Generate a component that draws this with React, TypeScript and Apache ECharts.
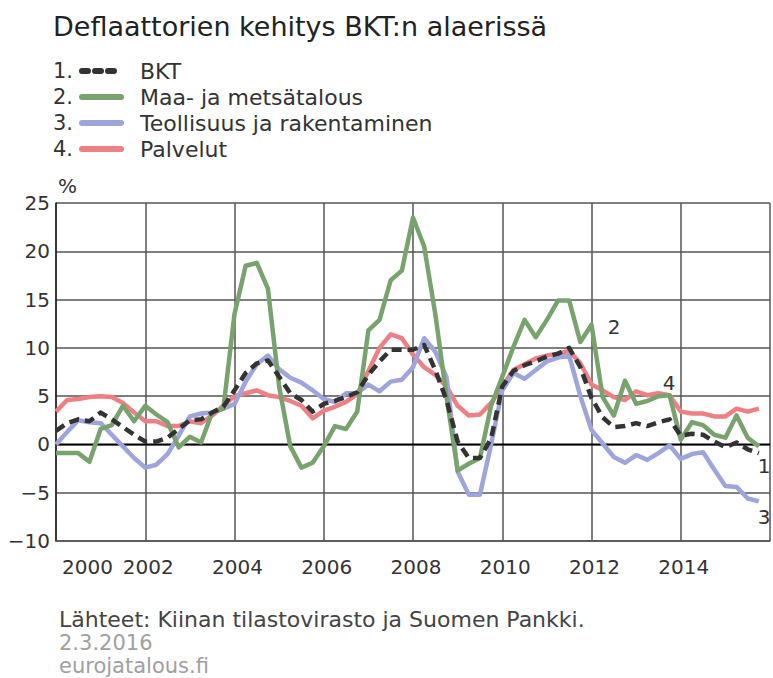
import React, { useEffect, useRef } from "react";
import * as echarts from "echarts";

// Quarterly observations 2000Q1 ... 2015Q4 (year-on-year change, %)
const startYear = 2000;
const seriesNames = ["BKT", "Maa- ja metsätalous", "Teollisuus ja rakentaminen", "Palvelut"];

const bkt = [
  1.4, 2.2, 2.6, 2.4, 3.3, 2.6, 1.8, 1.0,
  0.3, 0.3, 0.7, 1.6, 2.5, 2.6, 3.3, 3.9,
  5.6, 7.4, 8.4, 8.7, 7.0, 5.3, 4.6, 3.4,
  4.2, 4.5, 4.9, 5.4, 7.2, 8.6, 9.8, 9.8,
  9.8, 10.3, 7.7, 4.6, 0.3, -1.4, -1.4, 0.6,
  6.0, 7.6, 8.2, 8.6, 9.1, 9.4, 10.0, 8.0,
  4.8, 2.8, 1.8, 1.9, 2.2, 1.9, 2.3, 2.6,
  0.9, 1.1, 1.0, 0.3, -0.3, 0.2, -0.5, -0.9,
];

const maaMetsa = [
  -0.9, -0.9, -0.9, -1.8, 1.6, 2.0, 4.0, 2.4,
  4.0, 3.1, 2.3, -0.3, 0.8, 0.2, 3.3, 3.7,
  13.5, 18.5, 18.8, 16.1, 6.0, -0.2, -2.4, -1.9,
  -0.2, 1.9, 1.6, 3.4, 11.8, 12.9, 17.0, 18.0,
  23.5, 20.5, 13.5, 5.0, -2.7, -2.0, -1.4, 4.0,
  7.0, 10.1, 12.9, 11.1, 12.9, 14.9, 14.9, 10.6,
  12.4, 4.9, 3.0, 6.6, 4.2, 4.5, 5.0, 5.1,
  0.5, 2.3, 2.0, 1.0, 0.7, 3.0, 0.7, -0.2,
];

const teollisuus = [
  0.0, 1.3, 2.5, 2.3, 2.2, 1.0, -0.2, -1.4,
  -2.4, -2.1, -1.0, 0.9, 2.9, 3.2, 3.3, 3.7,
  4.2, 6.5, 8.3, 9.2, 7.8, 6.9, 6.4, 5.6,
  4.7, 4.4, 5.3, 5.3, 6.2, 5.5, 6.5, 6.7,
  8.0, 11.0, 9.6, 7.0, -2.8, -5.2, -5.2, 0.0,
  5.6, 7.4, 6.8, 7.7, 8.6, 9.0, 9.2, 5.0,
  1.5, 0.1, -1.3, -1.9, -1.1, -1.6, -0.9, -0.1,
  -1.5, -1.0, -0.8, -2.6, -4.3, -4.4, -5.6, -5.9,
];

const palvelut = [
  3.4, 4.6, 4.7, 4.9, 5.0, 4.9, 4.3, 3.3,
  2.4, 2.4, 1.9, 1.9, 2.4, 2.2, 3.0, 4.0,
  5.0, 5.3, 5.6, 5.1, 4.9, 4.5, 4.0, 2.7,
  3.5, 3.9, 4.4, 5.2, 7.6, 10.0, 11.4, 11.0,
  9.3, 8.0, 7.2, 6.0, 4.0, 3.0, 3.1, 4.3,
  6.0, 7.7, 8.3, 8.9, 9.2, 9.4, 9.7, 8.4,
  6.2, 5.6, 4.9, 4.6, 5.5, 5.1, 5.3, 5.1,
  3.4, 3.2, 3.2, 2.9, 2.9, 3.7, 3.4, 3.7,
];

const xTickYears = [2000, 2002, 2004, 2006, 2008, 2010, 2012, 2014];

const colors = ["#333333", "#78a36c", "#9ea4dc", "#ee7f84"];
const FONT = '"DejaVu Sans", "Noto Sans", sans-serif';

function toPoints(values: number[]) {
  return values.map((v, i) => [startYear + i / 4, v]);
}

export default function App() {
  const ref = useRef<HTMLDivElement>(null);

  useEffect(() => {
    if (!ref.current) return;
    const chart = echarts.init(ref.current, undefined, { renderer: "svg" });

    const legendRows = seriesNames.map((name, i) => {
      const y = 71 + i * 26;
      return [
        {
          type: "text",
          x: 53,
          y,
          style: { text: `${i + 1}.`, font: `21px ${FONT}`, fill: "#333", verticalAlign: "middle" },
        },
        {
          type: "line",
          shape: { x1: 82, y1: y, x2: 121, y2: y },
          style: {
            stroke: colors[i],
            lineWidth: 6,
            lineCap: "round",
            lineDash: i === 0 ? [6, 7] : null,
          },
        },
        {
          type: "text",
          x: 140,
          y,
          style: { text: name, font: `22px ${FONT}`, fill: "#333", verticalAlign: "middle" },
        },
      ];
    }).flat();

    const lineLabels = [
      { t: "2", x: 614, y: 327 },
      { t: "4", x: 669, y: 383 },
      { t: "1", x: 764, y: 466 },
      { t: "3", x: 764, y: 517 },
    ].map((l) => ({
      type: "text",
      x: l.x,
      y: l.y,
      z: 100,
      style: { text: l.t, font: `20px ${FONT}`, fill: "#333", align: "center", verticalAlign: "middle" },
    }));

    const seriesData = [bkt, maaMetsa, teollisuus, palvelut];
    const drawOrder = [3, 2, 1, 0];

    chart.setOption({
      animation: false,
      backgroundColor: "#ffffff",
      grid: { left: 56, top: 203, height: 338, width: 726 },
      xAxis: {
        type: "value",
        min: 2000,
        max: 2016,
        interval: 2,
        axisLine: { show: true, onZero: false, lineStyle: { color: "#555", width: 1.5 } },
        axisTick: { show: false },
        splitLine: { show: true, lineStyle: { color: "#555", width: 1.5 } },
        axisLabel: {
          fontFamily: FONT,
          fontSize: 20,
          color: "#333",
          margin: 16,
          padding: [0, 0, 0, 6],
          alignMinLabel: "left",
          formatter: (v: number) => (xTickYears.includes(v) ? String(v) : ""),
        },
      },
      yAxis: {
        type: "value",
        min: -10,
        max: 25,
        interval: 5,
        axisLine: { show: true, lineStyle: { color: "#222", width: 1.5 } },
        axisTick: { show: false },
        splitLine: { show: true, lineStyle: { color: "#555", width: 1.5 } },
        axisLabel: {
          fontFamily: FONT,
          fontSize: 20,
          color: "#333",
          margin: 6,
          formatter: (v: number) => (v < 0 ? "\u2212" + Math.abs(v) : String(v)),
        },
      },
      series: [
        ...drawOrder.map((idx) => ({
          type: "line",
          name: seriesNames[idx],
          data: toPoints(seriesData[idx]),
          showSymbol: false,
          symbol: "none",
          z: 3 + (3 - idx),
          lineStyle: {
            color: colors[idx],
            width: 4.5,
            type: idx === 0 ? [10, 6] : "solid",
            join: "round",
          },
        })),
        {
          type: "line",
          data: [[2000, 0], [2016, 0]],
          showSymbol: false,
          symbol: "none",
          silent: true,
          z: 2,
          lineStyle: { color: "#000", width: 1.8 },
        },
      ],
      graphic: [
        {
          type: "text",
          x: 53,
          y: 26,
          style: {
            text: "Deflaattorien kehitys BKT:n alaerissä",
            font: `27px ${FONT}`,
            fill: "#222",
            verticalAlign: "middle",
          },
        },
        ...legendRows,
        {
          type: "text",
          x: 58,
          y: 186,
          style: { text: "%", font: `20px ${FONT}`, fill: "#333", verticalAlign: "middle" },
        },
        ...lineLabels,
        {
          type: "text",
          x: 59,
          y: 619,
          style: {
            text: "Lähteet: Kiinan tilastovirasto ja Suomen Pankki.",
            font: `22px ${FONT}`,
            fill: "#444",
            verticalAlign: "middle",
          },
        },
        {
          type: "text",
          x: 59,
          y: 643,
          style: { text: "2.3.2016", font: `21px ${FONT}`, fill: "#a0a0a0", verticalAlign: "middle" },
        },
        {
          type: "text",
          x: 59,
          y: 666,
          style: { text: "eurojatalous.fi", font: `21px ${FONT}`, fill: "#a0a0a0", verticalAlign: "middle" },
        },
      ],
    });

    return () => chart.dispose();
  }, []);

  return (
    <div
      ref={ref}
      style={{ position: "fixed", left: 0, top: 0, width: 773, height: 678, background: "#fff" }}
    />
  );
}
